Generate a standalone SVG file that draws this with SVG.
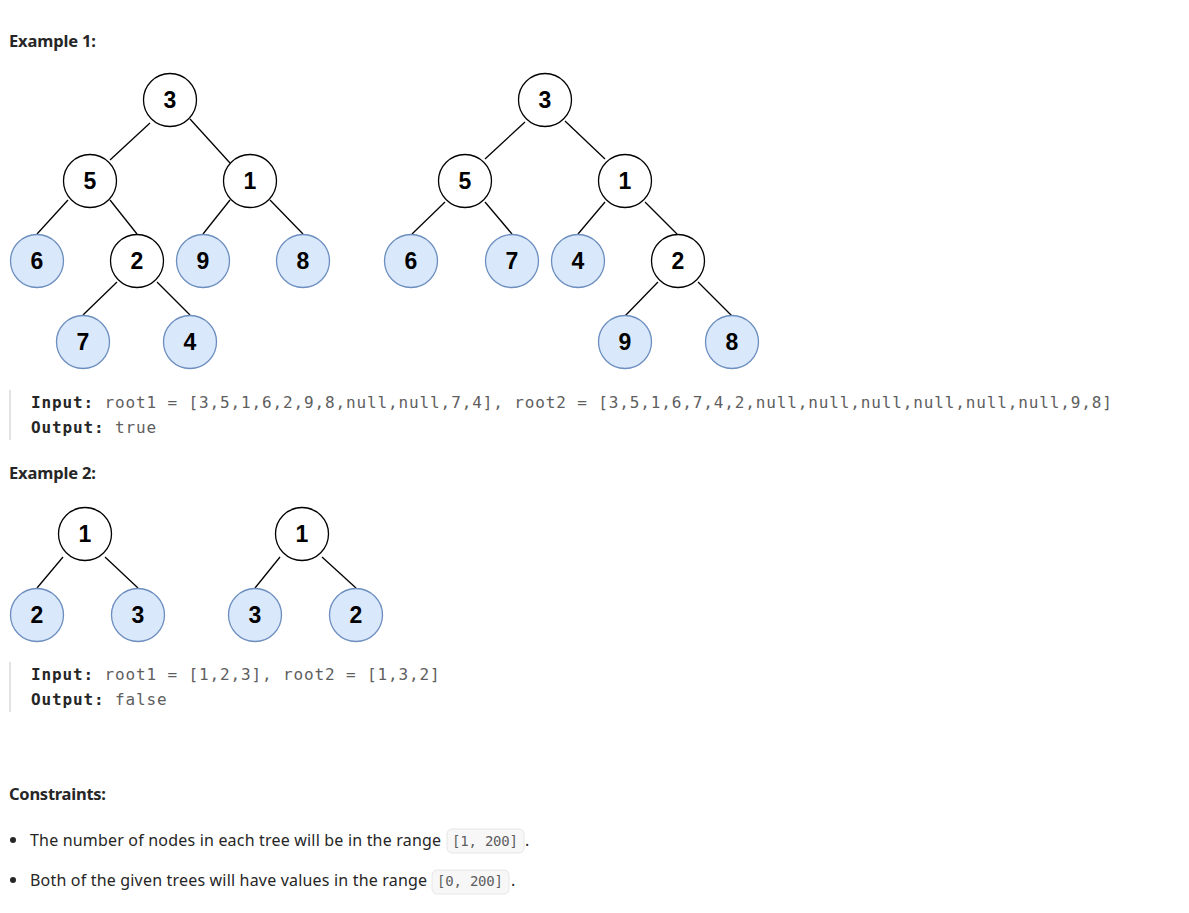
<svg xmlns="http://www.w3.org/2000/svg" width="1189" height="913" viewBox="0 0 1189 913">
<style>
.h{font-family:"Noto Sans","Open Sans",sans-serif;font-weight:700;font-size:16.5px;fill:#262626}
.b{font-family:"Noto Sans","Open Sans",sans-serif;font-size:16px;fill:#262626}
.m{font-family:"DejaVu Sans Mono","Liberation Mono",monospace;font-size:16px;letter-spacing:0.87px;fill:#5e5e5e}
.mb{font-weight:700;fill:#262626}
.c{font-family:"DejaVu Sans Mono","Liberation Mono",monospace;font-size:14px;fill:#5e5e5e}
.chip{fill:#f7f7f8;stroke:#e6e6e6;stroke-width:1}
.bar{fill:#e3e3e3}
.n circle{fill:#ffffff;stroke:#000000;stroke-width:1.3}
.l circle{fill:#dae8fc;stroke:#6c8ebf;stroke-width:1.3}
.n text,.l text{font-family:"Liberation Sans",Arial,sans-serif;font-weight:700;font-size:23px;fill:#000000;text-anchor:middle}
#edges line{stroke:#000000;stroke-width:1.3}
</style>
<rect width="1189" height="913" fill="#ffffff"/>

<text class="h" x="9" y="47" textLength="87">Example 1:</text>

<g id="edges">
<line x1="150" y1="123" x2="110" y2="160"/>
<line x1="190" y1="119" x2="230" y2="163"/>
<line x1="68" y1="200" x2="37" y2="234"/>
<line x1="110" y1="200" x2="137" y2="234"/>
<line x1="230" y1="200" x2="203" y2="234"/>
<line x1="270" y1="200" x2="303" y2="234"/>
<line x1="117" y1="282" x2="83" y2="315"/>
<line x1="157" y1="282" x2="190" y2="315"/>

<line x1="525" y1="122" x2="485" y2="159"/>
<line x1="565" y1="121" x2="605" y2="159"/>
<line x1="445" y1="202" x2="412" y2="234"/>
<line x1="485" y1="202" x2="512" y2="234"/>
<line x1="605" y1="202" x2="578" y2="234"/>
<line x1="645" y1="202" x2="677" y2="234"/>
<line x1="658" y1="282" x2="625" y2="316"/>
<line x1="698" y1="282" x2="732" y2="316"/>

<line x1="63" y1="557" x2="37" y2="588"/>
<line x1="105" y1="557" x2="138" y2="588"/>
<line x1="280" y1="557" x2="255" y2="588"/>
<line x1="322" y1="557" x2="356" y2="588"/>
</g>

<g id="t1-n3" class="n"><circle cx="170" cy="100" r="26.5"/><text x="170" y="108">3</text></g>
<g id="t1-n5" class="n"><circle cx="90" cy="181" r="26.5"/><text x="90" y="189">5</text></g>
<g id="t1-n1" class="n"><circle cx="250" cy="181" r="26.5"/><text x="250" y="189">1</text></g>
<g id="t1-n6" class="l"><circle cx="37" cy="261" r="26.5"/><text x="37" y="269">6</text></g>
<g id="t1-n2" class="n"><circle cx="137" cy="261" r="26.5"/><text x="137" y="269">2</text></g>
<g id="t1-n9" class="l"><circle cx="203" cy="261" r="26.5"/><text x="203" y="269">9</text></g>
<g id="t1-n8" class="l"><circle cx="303" cy="261" r="26.5"/><text x="303" y="269">8</text></g>
<g id="t1-n7" class="l"><circle cx="83" cy="342" r="26.5"/><text x="83" y="350">7</text></g>
<g id="t1-n4" class="l"><circle cx="190" cy="342" r="26.5"/><text x="190" y="350">4</text></g>

<g id="t2-n3" class="n"><circle cx="545" cy="100" r="26.5"/><text x="545" y="108">3</text></g>
<g id="t2-n5" class="n"><circle cx="465" cy="181" r="26.5"/><text x="465" y="189">5</text></g>
<g id="t2-n1" class="n"><circle cx="625" cy="181" r="26.5"/><text x="625" y="189">1</text></g>
<g id="t2-n6" class="l"><circle cx="411" cy="261" r="26.5"/><text x="411" y="269">6</text></g>
<g id="t2-n7" class="l"><circle cx="512" cy="261" r="26.5"/><text x="512" y="269">7</text></g>
<g id="t2-n4" class="l"><circle cx="578" cy="261" r="26.5"/><text x="578" y="269">4</text></g>
<g id="t2-n2" class="n"><circle cx="678" cy="261" r="26.5"/><text x="678" y="269">2</text></g>
<g id="t2-n9" class="l"><circle cx="625" cy="342" r="26.5"/><text x="625" y="350">9</text></g>
<g id="t2-n8" class="l"><circle cx="732" cy="342" r="26.5"/><text x="732" y="350">8</text></g>

<rect class="bar" x="9" y="390" width="2" height="50"/>
<text class="m" x="31" y="408"><tspan class="mb">Input:</tspan> root1 = [3,5,1,6,2,9,8,null,null,7,4], root2 = [3,5,1,6,7,4,2,null,null,null,null,null,null,9,8]</text>
<text class="m" x="31" y="433"><tspan class="mb">Output:</tspan> true</text>

<text class="h" x="9" y="479" textLength="87">Example 2:</text>

<g id="t3-n1" class="n"><circle cx="85" cy="534" r="26.5"/><text x="85" y="542">1</text></g>
<g id="t3-n2" class="l"><circle cx="37" cy="615" r="26.5"/><text x="37" y="623">2</text></g>
<g id="t3-n3" class="l"><circle cx="138" cy="615" r="26.5"/><text x="138" y="623">3</text></g>
<g id="t4-n1" class="n"><circle cx="302" cy="534" r="26.5"/><text x="302" y="542">1</text></g>
<g id="t4-n3" class="l"><circle cx="255" cy="615" r="26.5"/><text x="255" y="623">3</text></g>
<g id="t4-n2" class="l"><circle cx="356" cy="615" r="26.5"/><text x="356" y="623">2</text></g>

<rect class="bar" x="9" y="662" width="2" height="50"/>
<text class="m" x="31" y="680"><tspan class="mb">Input:</tspan> root1 = [1,2,3], root2 = [1,3,2]</text>
<text class="m" x="31" y="705"><tspan class="mb">Output:</tspan> false</text>

<text class="h" x="9" y="800" textLength="97">Constraints:</text>

<circle cx="13" cy="840" r="3" fill="#262626"/>
<text class="b" x="30" y="846" textLength="411">The number of nodes in each tree will be in the range</text>
<rect class="chip" x="447" y="829" width="77" height="24" rx="5"/>
<text class="c" x="452" y="846" textLength="66">[1, 200]</text>
<text class="b" x="525" y="846">.</text>

<circle cx="13" cy="880" r="3" fill="#262626"/>
<text class="b" x="30" y="886" textLength="397">Both of the given trees will have values in the range</text>
<rect class="chip" x="432" y="870" width="77" height="24" rx="5"/>
<text class="c" x="437" y="886" textLength="66">[0, 200]</text>
<text class="b" x="511" y="886">.</text>
</svg>
